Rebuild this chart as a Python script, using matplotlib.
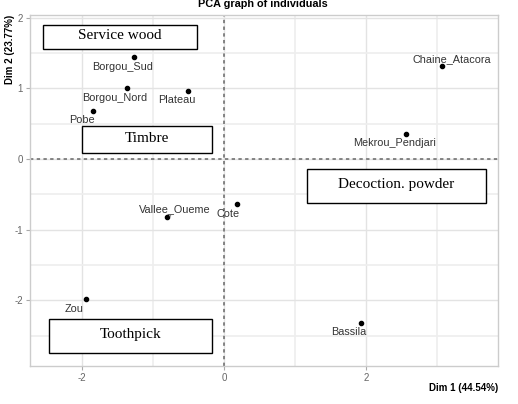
import matplotlib
matplotlib.use("Agg")
import matplotlib.pyplot as plt
from matplotlib.patches import Rectangle

# Data
names = ["Borgou_Sud", "Borgou_Nord", "Plateau", "Pobe", "Chaine_Atacora",
         "Mekrou_Pendjari", "Cote", "Vallee_Oueme", "Zou", "Bassila"]
dim1 = [-1.26, -1.37, -0.50, -1.84, 3.07, 2.56, 0.18, -0.80, -1.94, 1.93]
dim2 = [1.44, 1.00, 0.96, 0.68, 1.32, 0.36, -0.64, -0.82, -1.98, -2.32]
title = "PCA graph of individuals"
xlabel = "Dim 1 (44.54%)"
ylabel = "Dim 2 (23.77%)"
uses = ["Service wood", "Timbre", "Decoction. powder", "Toothpick"]

# label offsets in pixels (dx right, dy down)
label_off = [(-12, 9.4), (-11.7, 10), (-12, 9), (-11.6, 9), (9.6, -7),
             (-11, 9.6), (-8.7, 9.3), (8, -7.7), (-12, 9.7), (-11.7, 9.4)]
# boxes: x0, x1, y_bottom, y_top (data coords)
boxes = [(-2.545, -0.385, 1.552, 1.905),
         (-1.996, -0.173, 0.081, 0.4625),
         (1.173, 3.686, -0.627, -0.146),
         (-2.46, -0.173, -2.748, -2.267)]

plt.rcParams['font.family'] = ['Liberation Sans', 'DejaVu Sans']
plt.rcParams['axes.unicode_minus'] = False
fig = plt.figure(figsize=(5.18, 4.04), dpi=100)
ax = fig.add_axes([30/518, 38/404, 468/518, 351/404])
ax.set_xlim(-2.73, 3.86)
ax.set_ylim(-2.93, 2.04)

ax.set_xticks([-2, 0, 2])
ax.set_xticks([-1, 1, 3], minor=True)
ax.set_yticks([-2, -1, 0, 1, 2])
ax.set_yticks([-2.5, -1.5, -0.5, 0.5, 1.5], minor=True)
ax.grid(True, which='major', color='#E3E3E3', lw=1)
ax.grid(True, which='minor', color='#EEEEEE', lw=1.2)
ax.set_axisbelow(True)
for s in ax.spines.values():
    s.set_color('#CCCCCC')
    s.set_linewidth(1)
ax.tick_params(which='major', length=3, color='#AAAAAA', labelsize=7,
               labelcolor='#666666', pad=2)
ax.tick_params(which='minor', length=0)

ax.axhline(0, color='#666666', ls=(0, (2.2, 2.2)), lw=1.1)
ax.axvline(0, color='#666666', ls=(0, (2.2, 2.2)), lw=1.1)

ax.scatter(dim1, dim2, s=9, color='black', zorder=3)
for n, x, y, (dx, dy) in zip(names, dim1, dim2, label_off):
    ax.annotate(n, (x, y), xytext=(dx*0.72, -dy*0.72), textcoords='offset points',
                ha='center', va='center', fontsize=7.8, color='#333333')
# small segment for Vallee_Oueme
i = names.index("Vallee_Oueme")
ax.annotate("", (dim1[i], dim2[i]), xytext=(4.5, 1.5), textcoords='offset points',
            arrowprops=dict(arrowstyle='-', color='#555555', lw=0.8))

for (x0, x1, y0, y1), t in zip(boxes, uses):
    ax.add_patch(Rectangle((x0, y0), x1-x0, y1-y0, fill=True, facecolor='white',
                           edgecolor='black', lw=1, zorder=4))
    ax.text((x0+x1)/2, (y0+y1)/2 + 0.02, t, ha='center', va='center',
            fontsize=11, family='Liberation Serif', zorder=5)

fig.text(263/518, 1 - 4/404, title, ha='center', va='center', fontsize=7.8,
         fontweight='bold')
fig.text(498/518, 1 - 388/404, xlabel, ha='right', va='center', fontsize=7,
         fontweight='bold')
fig.text(10/518, 1 - 15/404, ylabel, ha='center', va='top', rotation=90,
         fontsize=7, fontweight='bold')

fig.savefig("out.png", dpi=100)
